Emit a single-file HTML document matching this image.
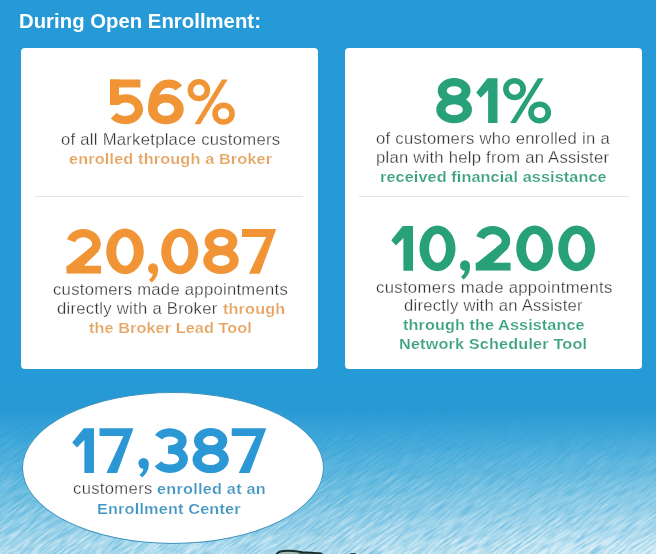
<!DOCTYPE html>
<html><head><meta charset="utf-8">
<style>
html,body{margin:0;padding:0;}
body{width:656px;height:554px;overflow:hidden;position:relative;font-family:"Liberation Sans",sans-serif;
background:#259ad6;}
#bg{position:absolute;left:0;top:0;}
.title{position:absolute;left:19px;top:9px;font-size:18.5px;font-weight:bold;color:#fff;white-space:nowrap;letter-spacing:0.9px;}
.card{position:absolute;top:48px;height:321px;background:#fff;border-radius:4px;}
#c1{left:20.5px;width:297.5px;}
#c2{left:345px;width:297px;}
.g{position:absolute;white-space:nowrap;transform-origin:0 0;}
.big{font-weight:bold;}
.ln{line-height:20px;height:20px;}
.hr{position:absolute;height:1px;background:#e2e2e2;top:196px;}
.ell{position:absolute;left:21.5px;top:391.5px;width:300px;height:150px;border-radius:50%;background:#fff;border:1px solid #3f94bf;}
</style></head><body>
<svg id="bg" width="656" height="554" viewBox="0 0 656 554">
<defs>
<linearGradient id="gb" x1="0" y1="0" x2="0" y2="554" gradientUnits="userSpaceOnUse">
<stop offset="0" stop-color="#259ad6"/>
<stop offset="0.69" stop-color="#259ad6"/>
<stop offset="0.74" stop-color="#2899d4"/>
<stop offset="0.80" stop-color="#39a5d8"/>
<stop offset="0.87" stop-color="#52b2db"/>
<stop offset="0.94" stop-color="#78c3e2"/>
<stop offset="1" stop-color="#a4d7ea"/>
</linearGradient>
<linearGradient id="gm" x1="0" y1="0" x2="0" y2="554" gradientUnits="userSpaceOnUse">
<stop offset="0.735" stop-color="#000"/>
<stop offset="0.79" stop-color="#1e1e1e"/>
<stop offset="0.85" stop-color="#505050"/>
<stop offset="0.92" stop-color="#989898"/>
<stop offset="1" stop-color="#fff"/>
</linearGradient>
<linearGradient id="gh" x1="0" y1="0" x2="656" y2="0" gradientUnits="userSpaceOnUse">
<stop offset="0" stop-color="#fff" stop-opacity="0"/>
<stop offset="0.45" stop-color="#fff" stop-opacity="0.06"/>
<stop offset="1" stop-color="#fff" stop-opacity="0.42"/>
</linearGradient>
<mask id="mk"><rect x="0" y="0" width="656" height="554" fill="url(#gm)"/></mask>
<filter id="wv" x="0" y="0" width="100%" height="100%" color-interpolation-filters="sRGB">
<feTurbulence type="fractalNoise" baseFrequency="0.045 0.5" numOctaves="3" seed="7" result="n"/>
<feColorMatrix in="n" type="matrix" values="0 0 0 0 1  0 0 0 0 1  0 0 0 0 1  1.4 0 0 0 -0.42"/>
</filter>
<filter id="wd" x="0" y="0" width="100%" height="100%" color-interpolation-filters="sRGB">
<feTurbulence type="fractalNoise" baseFrequency="0.05 0.55" numOctaves="3" seed="23" result="n"/>
<feColorMatrix in="n" type="matrix" values="0 0 0 0 0.2  0 0 0 0 0.62  0 0 0 0 0.84  1.1 0 0 0 -0.45"/>
</filter>
</defs>
<rect width="656" height="554" fill="url(#gb)"/>
<g mask="url(#mk)"><rect width="656" height="554" fill="url(#gh)"/><rect x="-250" y="200" width="1200" height="800" filter="url(#wv)" transform="rotate(-36 328 460)"/><rect x="-250" y="200" width="1200" height="800" filter="url(#wd)" transform="rotate(-36 328 460)"/></g>
<path d="M275.8 555.5 C277 552 281 550.7 288 550.8 C294 550.9 298 551.6 302 552.1 C310 552.8 317 552.9 320.5 553.3 L324 555.5 Z" fill="#a3bab4" stroke="#14302c" stroke-width="1.9"/>
<path d="M299 553.2 L321 553.6 L323.5 555 L298 555 Z" fill="#1d3b37"/>
<path d="M349 555 L350.8 553 L355.2 553 L357 555 Z" fill="#2a4a48"/>
</svg>
<div class="card" id="c1"></div>
<div class="card" id="c2"></div>
<div class="hr" style="left:35px;width:268px;"></div>
<div class="hr" style="left:359px;width:270px;"></div>
<div class="ell"></div>
<svg class="g" style="left:0;top:0" width="656" height="554"><defs><clipPath id="cb"><rect x="0" y="-2" width="76" height="102"/></clipPath></defs><g transform="translate(108.75 79.50) scale(0.4477 0.4470)" fill="#f09436" stroke="#f09436"><rect stroke="none" x="2.8" y="0" width="68" height="17.8"/><rect stroke="none" x="2.8" y="0" width="20.2" height="57"/><path fill="none" stroke-width="18.6" d="M17.01 49.39 A29.4 24.2 0 1 1 37.80 90.70 L37.80 90.70 A33 24.2 0 0 1 11.10 80.72"/></g>
<g transform="translate(148.00 79.50) scale(0.4525 0.4470)" fill="#f09436" stroke="#f09436"><path fill-rule="evenodd" stroke="none" d="M0.00 66.3A39.5 34 0 1 0 79.00 66.3A39.5 34 0 1 0 0.00 66.3ZM21.00 66.3A18.5 15 0 1 0 58.00 66.3A18.5 15 0 1 0 21.00 66.3Z"/><path fill="none" stroke-width="18.6" d="M9.3 68 C9.3 30 24 9.3 46 9.3 C56 9.3 63 12.5 68 19"/></g>
<g transform="translate(187.50 79.50) scale(0.4541 0.4470)" fill="#f09436" stroke="#f09436"><circle fill="none" stroke-width="12.3" cx="25" cy="24" r="18.7"/><circle fill="none" stroke-width="12.3" cx="79.4" cy="76.5" r="18.7"/><polygon stroke="none" points="75.8,0 88.3,0 28,100 15.5,100"/></g>
<g transform="translate(66.25 229.05) scale(0.4605 0.4470)" fill="#f09436" stroke="#f09436"><g clip-path="url(#cb)"><path fill="none" stroke-width="18.6" d="M10.33 26.18 A28.2 24 0 1 1 61.72 45.20 L50 56"/><polygon stroke="none" points="54.5,39.5 70,49.8 36,85 -1,86"/><rect stroke="none" x="0" y="82" width="76" height="18"/></g></g>
<g transform="translate(106.25 229.05) scale(0.4630 0.4470)" fill="#f09436" stroke="#f09436"><path fill-rule="evenodd" stroke="none" d="M0.00 50A40.5 51 0 1 0 81.00 50A40.5 51 0 1 0 0.00 50ZM21.50 50A19 32 0 1 0 59.50 50A19 32 0 1 0 21.50 50Z"/></g>
<g transform="translate(148.00 229.05) scale(0.4202 0.4470)" fill="#f09436" stroke="#f09436"><circle stroke="none" cx="11.9" cy="88.3" r="11.9"/><path stroke="none" d="M23.7 88 C25 102 18 113 8 119.5 L2.5 113.5 C9 109 12 104 11 98 Z"/></g>
<g transform="translate(161.25 229.05) scale(0.4568 0.4470)" fill="#f09436" stroke="#f09436"><path fill-rule="evenodd" stroke="none" d="M0.00 50A40.5 51 0 1 0 81.00 50A40.5 51 0 1 0 0.00 50ZM21.50 50A19 32 0 1 0 59.50 50A19 32 0 1 0 21.50 50Z"/></g>
<g transform="translate(203.25 229.05) scale(0.4505 0.4470)" fill="#f09436" stroke="#f09436"><path fill-rule="evenodd" stroke="none" d="M3.20 28A36.2 28.5 0 1 0 75.60 28A36.2 28.5 0 1 0 3.20 28ZM22.90 28A16.5 10.3 0 1 0 55.90 28A16.5 10.3 0 1 0 22.90 28Z"/><path fill-rule="evenodd" stroke="none" d="M0.00 70.2A39.4 30.3 0 1 0 78.80 70.2A39.4 30.3 0 1 0 0.00 70.2ZM20.10 70.2A19.3 12.4 0 1 0 58.70 70.2A19.3 12.4 0 1 0 20.10 70.2Z"/></g>
<g transform="translate(242.00 229.05) scale(0.4530 0.4470)" fill="#f09436" stroke="#f09436"><polygon stroke="none" points="0,0 75.6,0 39.2,100 15.4,100 53.2,17.6 0,17.6"/></g>
<g transform="translate(436.25 78.30) scale(0.4537 0.4470)" fill="#28a079" stroke="#28a079"><path fill-rule="evenodd" stroke="none" d="M3.20 28A36.2 28.5 0 1 0 75.60 28A36.2 28.5 0 1 0 3.20 28ZM22.90 28A16.5 10.3 0 1 0 55.90 28A16.5 10.3 0 1 0 22.90 28Z"/><path fill-rule="evenodd" stroke="none" d="M0.00 70.2A39.4 30.3 0 1 0 78.80 70.2A39.4 30.3 0 1 0 0.00 70.2ZM20.10 70.2A19.3 12.4 0 1 0 58.70 70.2A19.3 12.4 0 1 0 20.10 70.2Z"/></g>
<g transform="translate(476.25 78.30) scale(0.4363 0.4470)" fill="#28a079" stroke="#28a079"><polygon stroke="none" points="48.7,0 25.7,0 0,32 10.4,43.3 27.2,26.5 27.2,100 48.7,100"/></g>
<g transform="translate(503.00 78.30) scale(0.4613 0.4470)" fill="#28a079" stroke="#28a079"><circle fill="none" stroke-width="12.3" cx="25" cy="24" r="18.7"/><circle fill="none" stroke-width="12.3" cx="79.4" cy="76.5" r="18.7"/><polygon stroke="none" points="75.8,0 88.3,0 28,100 15.5,100"/></g>
<g transform="translate(391.25 226.05) scale(0.4466 0.4470)" fill="#28a079" stroke="#28a079"><polygon stroke="none" points="48.7,0 25.7,0 0,32 10.4,43.3 27.2,26.5 27.2,100 48.7,100"/></g>
<g transform="translate(419.50 226.05) scale(0.4444 0.4470)" fill="#28a079" stroke="#28a079"><path fill-rule="evenodd" stroke="none" d="M0.00 50A40.5 51 0 1 0 81.00 50A40.5 51 0 1 0 0.00 50ZM21.50 50A19 32 0 1 0 59.50 50A19 32 0 1 0 21.50 50Z"/></g>
<g transform="translate(460.00 226.05) scale(0.4202 0.4470)" fill="#28a079" stroke="#28a079"><circle stroke="none" cx="11.9" cy="88.3" r="11.9"/><path stroke="none" d="M23.7 88 C25 102 18 113 8 119.5 L2.5 113.5 C9 109 12 104 11 98 Z"/></g>
<g transform="translate(475.50 226.05) scale(0.4638 0.4470)" fill="#28a079" stroke="#28a079"><g clip-path="url(#cb)"><path fill="none" stroke-width="18.6" d="M10.33 26.18 A28.2 24 0 1 1 61.72 45.20 L50 56"/><polygon stroke="none" points="54.5,39.5 70,49.8 36,85 -1,86"/><rect stroke="none" x="0" y="82" width="76" height="18"/></g></g>
<g transform="translate(516.25 226.05) scale(0.4537 0.4470)" fill="#28a079" stroke="#28a079"><path fill-rule="evenodd" stroke="none" d="M0.00 50A40.5 51 0 1 0 81.00 50A40.5 51 0 1 0 0.00 50ZM21.50 50A19 32 0 1 0 59.50 50A19 32 0 1 0 21.50 50Z"/></g>
<g transform="translate(558.25 226.05) scale(0.4537 0.4470)" fill="#28a079" stroke="#28a079"><path fill-rule="evenodd" stroke="none" d="M0.00 50A40.5 51 0 1 0 81.00 50A40.5 51 0 1 0 0.00 50ZM21.50 50A19 32 0 1 0 59.50 50A19 32 0 1 0 21.50 50Z"/></g>
<g transform="translate(72.25 428.20) scale(0.4466 0.4470)" fill="#2b97d5" stroke="#2b97d5"><polygon stroke="none" points="48.7,0 25.7,0 0,32 10.4,43.3 27.2,26.5 27.2,100 48.7,100"/></g>
<g transform="translate(99.50 428.20) scale(0.4497 0.4470)" fill="#2b97d5" stroke="#2b97d5"><polygon stroke="none" points="0,0 75.6,0 39.2,100 15.4,100 53.2,17.6 0,17.6"/></g>
<g transform="translate(138.40 423.90) scale(0.4328 0.4470)" fill="#2b97d5" stroke="#2b97d5"><circle stroke="none" cx="11.9" cy="88.3" r="11.9"/><path stroke="none" d="M23.7 88 C25 102 18 113 8 119.5 L2.5 113.5 C9 109 12 104 11 98 Z"/></g>
<g transform="translate(152.50 428.20) scale(0.4647 0.4470)" fill="#2b97d5" stroke="#2b97d5"><path fill="none" stroke-width="18.6" d="M13.21 20.27 A26.8 19 0 1 1 37.50 47.30"/><path fill="none" stroke-width="18.6" d="M37.50 47.90 A29.5 21.4 0 1 1 11.95 80.00"/><rect stroke="none" x="33.5" y="38.6" width="10" height="18.6"/></g>
<g transform="translate(192.50 428.20) scale(0.4600 0.4470)" fill="#2b97d5" stroke="#2b97d5"><path fill-rule="evenodd" stroke="none" d="M3.20 28A36.2 28.5 0 1 0 75.60 28A36.2 28.5 0 1 0 3.20 28ZM22.90 28A16.5 10.3 0 1 0 55.90 28A16.5 10.3 0 1 0 22.90 28Z"/><path fill-rule="evenodd" stroke="none" d="M0.00 70.2A39.4 30.3 0 1 0 78.80 70.2A39.4 30.3 0 1 0 0.00 70.2ZM20.10 70.2A19.3 12.4 0 1 0 58.70 70.2A19.3 12.4 0 1 0 20.10 70.2Z"/></g>
<g transform="translate(231.75 428.20) scale(0.4563 0.4470)" fill="#2b97d5" stroke="#2b97d5"><polygon stroke="none" points="0,0 75.6,0 39.2,100 15.4,100 53.2,17.6 0,17.6"/></g></svg>
<div class="g ln" style="left:19.04px;top:10.64px;font-size:19.5px;letter-spacing:0.035px;transform:scaleX(1.04)"><span style="color:#fff;font-weight:bold;">During Open Enrollment:</span></div>
<div class="g ln" style="left:61.30px;top:130.35px;font-size:16px;letter-spacing:0.259px;transform:scaleX(1.04)"><span style="color:#333;-webkit-text-stroke:0.28px #fff;">of all Marketplace customers</span></div>
<div class="g ln" style="left:69.37px;top:149.35px;font-size:15.3px;letter-spacing:0.157px;transform:scaleX(1.06)"><span style="color:#e5a460;font-weight:bold;-webkit-text-stroke:0.2px #fff;">enrolled through a Broker</span></div>
<div class="g ln" style="left:53.04px;top:280.35px;font-size:16px;letter-spacing:0.269px;transform:scaleX(1.04)"><span style="color:#333;-webkit-text-stroke:0.28px #fff;">customers made appointments</span></div>
<div class="g ln" style="left:56.80px;top:299.10px;font-size:16px;letter-spacing:0.265px;transform:scaleX(1.04)"><span style="color:#333;-webkit-text-stroke:0.28px #fff;">directly with a Broker</span></div>
<div class="g ln" style="left:222.80px;top:299.35px;font-size:15.3px;letter-spacing:0.151px;transform:scaleX(1.06)"><span style="color:#e5a460;font-weight:bold;-webkit-text-stroke:0.2px #fff;">through</span></div>
<div class="g ln" style="left:89.30px;top:318.10px;font-size:15.3px;letter-spacing:0.094px;transform:scaleX(1.06)"><span style="color:#e5a460;font-weight:bold;-webkit-text-stroke:0.2px #fff;">the Broker Lead Tool</span></div>
<div class="g ln" style="left:376.30px;top:129.10px;font-size:16px;letter-spacing:0.266px;transform:scaleX(1.04)"><span style="color:#333;-webkit-text-stroke:0.28px #fff;">of customers who enrolled in a</span></div>
<div class="g ln" style="left:376.43px;top:147.60px;font-size:16px;letter-spacing:0.233px;transform:scaleX(1.04)"><span style="color:#333;-webkit-text-stroke:0.28px #fff;">plan with help from an Assister</span></div>
<div class="g ln" style="left:380.18px;top:166.85px;font-size:15.3px;letter-spacing:0.103px;transform:scaleX(1.06)"><span style="color:#3aa182;font-weight:bold;-webkit-text-stroke:0.2px #fff;">received financial assistance</span></div>
<div class="g ln" style="left:375.54px;top:277.85px;font-size:16px;letter-spacing:0.325px;transform:scaleX(1.04)"><span style="color:#333;-webkit-text-stroke:0.28px #fff;">customers made appointments</span></div>
<div class="g ln" style="left:403.80px;top:296.10px;font-size:16px;letter-spacing:0.225px;transform:scaleX(1.04)"><span style="color:#333;-webkit-text-stroke:0.28px #fff;">directly with an Assister</span></div>
<div class="g ln" style="left:402.80px;top:315.35px;font-size:15.3px;letter-spacing:0.091px;transform:scaleX(1.06)"><span style="color:#3aa182;font-weight:bold;-webkit-text-stroke:0.2px #fff;">through the Assistance</span></div>
<div class="g ln" style="left:399.42px;top:333.85px;font-size:15.3px;letter-spacing:0.162px;transform:scaleX(1.06)"><span style="color:#3aa182;font-weight:bold;-webkit-text-stroke:0.2px #fff;">Network Scheduler Tool</span></div>
<div class="g ln" style="left:72.79px;top:478.85px;font-size:16px;letter-spacing:0.308px;transform:scaleX(1.04)"><span style="color:#333;-webkit-text-stroke:0.28px #fff;">customers</span></div>
<div class="g ln" style="left:157.27px;top:479.10px;font-size:15.3px;letter-spacing:0.239px;transform:scaleX(1.06)"><span style="color:#4396c2;font-weight:bold;-webkit-text-stroke:0.2px #fff;">enrolled at an</span></div>
<div class="g ln" style="left:97.42px;top:498.60px;font-size:15.3px;letter-spacing:0.177px;transform:scaleX(1.06)"><span style="color:#4396c2;font-weight:bold;-webkit-text-stroke:0.2px #fff;">Enrollment Center</span></div>
</body></html>
